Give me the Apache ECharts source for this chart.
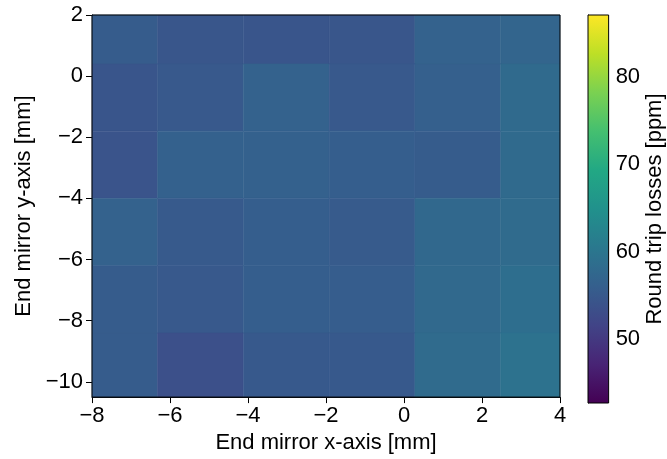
<!DOCTYPE html>
<html>
<head>
<meta charset="utf-8">
<script src="https://cdn.jsdelivr.net/npm/echarts@6/dist/echarts.min.js"></script>
<style>html,body{margin:0;padding:0;background:#fff;}#c{width:667px;height:459px;}</style>
</head>
<body>
<div id="c"></div>
<script>
// Cell edges of the measurement grid (x: left to right, y: top to bottom)
const xEdges = [-8, -6.32, -4.12, -1.92, 0.28, 2.48, 4];
const yEdges = [2, 0.4, -1.8, -4.0, -6.2, -8.4, -10.5];
// Round trip losses [ppm], one array per row, top row first
const row1 = [55.6, 54.6, 54.4, 54.6, 56.6, 57.0];
const row2 = [54.4, 55.0, 56.5, 55.0, 56.2, 58.0];
const row3 = [54.2, 56.3, 56.3, 55.9, 55.5, 57.9];
const row4 = [56.5, 55.2, 55.9, 55.4, 57.6, 58.1];
const row5 = [55.5, 55.0, 55.9, 55.7, 57.8, 58.7];
const row6 = [55.5, 53.6, 55.1, 55.1, 58.1, 59.4];
const rows = [row1, row2, row3, row4, row5, row6];
const yTicks = [-10, -8, -6, -4, -2, 0, 2];
const cbTicks = [50, 60, 70, 80];
const cMin = 42.7, cMax = 87.1;

const viridis = ['#440154','#482475','#414487','#355f8d','#2a788e','#21918c','#22a884','#44bf70','#7ad151','#bddf26','#fde725'];

const cells = [];
rows.forEach((r, j) => r.forEach((v, i) => cells.push([i, j, v])));

const minus = v => String(v).replace('-', '\u2212');
const font = 'Liberation Sans, Arial, sans-serif';
const FS = 22;

const chart = echarts.init(document.getElementById('c'), null, {renderer: 'canvas'});
chart.setOption({
  animation: false,
  textStyle: {fontFamily: font},
  grid: [
    {left: 92, right: 107, top: 15, bottom: 57, show: true, borderColor: '#000', borderWidth: 1, backgroundColor: 'transparent', z: 10},
    {left: 588, width: 21, top: 15, height: 388, show: true, borderColor: '#000', borderWidth: 1, backgroundColor: 'transparent', z: 10}
  ],
  visualMap: {
    show: false, type: 'continuous', seriesIndex: 0, dimension: 2,
    min: cMin, max: cMax, inRange: {color: viridis}
  },
  xAxis: [
    {
      gridIndex: 0, type: 'value', min: -8, max: 4, interval: 2,
      axisLine: {show: true, onZero: false, lineStyle: {color: '#000'}},
      axisTick: {show: true, length: 6, lineStyle: {color: '#000'}},
      axisLabel: {color: '#000', fontSize: FS, margin: 8, formatter: minus, fontFamily: font},
      splitLine: {show: false},
      name: 'End mirror x-axis [mm]', nameLocation: 'middle', nameGap: 31,
      nameTextStyle: {color: '#000', fontSize: FS, fontFamily: font}
    },
    {gridIndex: 1, type: 'value', min: 0, max: 1, show: false}
  ],
  yAxis: [
    {
      gridIndex: 0, type: 'value', min: -10.5, max: 2,
      axisLine: {show: true, onZero: false, lineStyle: {color: '#000'}},
      axisTick: {show: true, length: 6, lineStyle: {color: '#000'}, customValues: yTicks},
      axisLabel: {color: '#000', fontSize: FS, margin: 9, formatter: minus, customValues: yTicks, fontFamily: font},
      splitLine: {show: false},
      name: 'End mirror y-axis [mm]', nameLocation: 'middle', nameGap: 56, nameRotate: 90,
      nameTextStyle: {color: '#000', fontSize: FS, fontFamily: font}
    },
    {
      gridIndex: 1, type: 'value', min: cMin, max: cMax, position: 'right',
      axisLine: {show: true, lineStyle: {color: '#000'}},
      axisTick: {show: true, length: 4, lineStyle: {color: '#000'}, customValues: cbTicks},
      axisLabel: {color: '#000', fontSize: FS, margin: 7, customValues: cbTicks, fontFamily: font},
      splitLine: {show: false},
      name: 'Round trip losses [ppm]', nameLocation: 'middle', nameGap: 35, nameRotate: 90,
      nameTextStyle: {color: '#000', fontSize: FS, fontFamily: font}
    }
  ],
  series: [
    {
      type: 'custom', xAxisIndex: 0, yAxisIndex: 0, data: cells,
      renderItem: function (params, api) {
        const i = api.value(0), j = api.value(1);
        const p1 = api.coord([xEdges[i], yEdges[j]]);
        const p2 = api.coord([xEdges[i + 1], yEdges[j + 1]]);
        return {
          type: 'rect',
          shape: {x: p1[0], y: p1[1], width: p2[0] - p1[0], height: p2[1] - p1[1]},
          style: {fill: api.visual('color'), stroke: api.visual('color'), lineWidth: 0.5}
        };
      }
    },
    {
      type: 'custom', xAxisIndex: 1, yAxisIndex: 1, data: [[0, cMin]],
      renderItem: function (params, api) {
        const p1 = api.coord([0, cMax]);
        const p2 = api.coord([1, cMin]);
        const stops = viridis.map((c, k) => ({offset: 1 - k / (viridis.length - 1), color: c})).reverse();
        return {
          type: 'rect',
          shape: {x: p1[0], y: p1[1], width: p2[0] - p1[0], height: p2[1] - p1[1]},
          style: {fill: {type: 'linear', x: 0, y: 0, x2: 0, y2: 1, colorStops: stops}}
        };
      }
    }
  ]
});
</script>
</body>
</html>
